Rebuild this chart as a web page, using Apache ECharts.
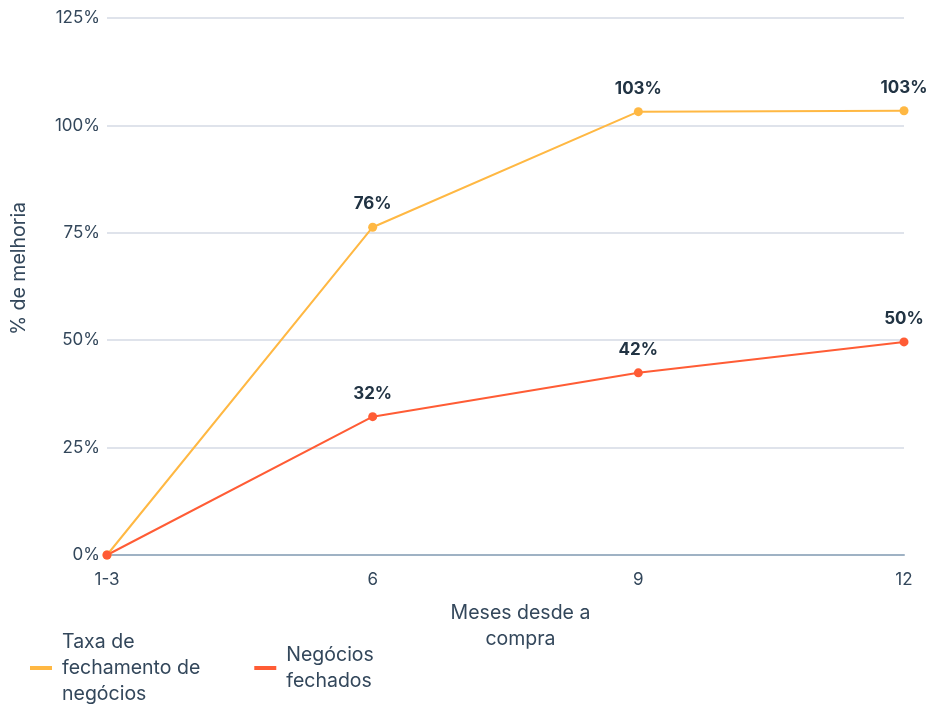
<!DOCTYPE html>
<html>
<head>
<meta charset="utf-8">
<script src="https://cdn.jsdelivr.net/npm/echarts@6/dist/echarts.min.js"></script>
<style>
  html, body { margin: 0; padding: 0; background: #fff; }
  #chart { width: 930px; height: 704px; }
</style>
</head>
<body>
<div id="chart"></div>
<script>
// Months since purchase
const months = ['1-3', '6', '9', '12'];
// % improvement
const closeRate = [0, 76.3, 103.2, 103.4];
const closedDeals = [0, 32.2, 42.4, 49.6];
const yTicks = [0, 25, 50, 75, 100, 125];

const FONT = 'Inter';
const TEXT = '#33475b';
const LABEL = '#213343';
const YELLOW = '#ffb843';
const RED = '#ff5c35';

const chart = echarts.init(document.getElementById('chart'));

function lineSeries(name, data, color) {
  return {
    name: name,
    type: 'line',
    data: data,
    color: color,
    symbol: 'circle',
    symbolSize: 9,
    lineStyle: { width: 2, color: color },
    itemStyle: { color: color },
    label: {
      show: true,
      position: 'top',
      distance: 10,
      fontFamily: FONT,
      fontWeight: 'bold',
      fontSize: 17,
      color: LABEL,
      formatter: p => (p.dataIndex === 0 ? '' : Math.round(p.value) + '%')
    }
  };
}

chart.setOption({
  animation: false,
  textStyle: { fontFamily: FONT },
  grid: { left: 107, right: 26, top: 18, bottom: 149 },
  legend: {
    left: 25,
    bottom: -8,
    itemWidth: 22,
    itemHeight: 4,
    itemGap: 54,
    icon: 'rect',
    textStyle: { fontFamily: FONT, fontSize: 19.5, color: TEXT, lineHeight: 26, padding: [0, 0, 0, 5] },
    data: [
      { name: 'Taxa de\nfechamento de\nnegócios', itemStyle: { color: YELLOW } },
      { name: 'Negócios\nfechados', itemStyle: { color: RED } }
    ]
  },
  xAxis: {
    type: 'category',
    data: months,
    boundaryGap: false,
    name: 'Meses desde a\ncompra',
    nameLocation: 'middle',
    nameGap: 45,
    nameTextStyle: { fontFamily: FONT, fontSize: 19.5, color: TEXT, lineHeight: 26, padding: [0, 0, 0, 30] },
    axisLine: { lineStyle: { color: '#9fb2c4', width: 2 } },
    axisTick: { show: false },
    axisLabel: { fontFamily: FONT, fontSize: 17, color: TEXT, margin: 16 }
  },
  yAxis: {
    type: 'value',
    min: yTicks[0],
    max: yTicks[yTicks.length - 1],
    interval: 25,
    name: '% de melhoria',
    nameLocation: 'middle',
    nameGap: 78,
    nameTextStyle: { fontFamily: FONT, fontSize: 19.5, color: TEXT, padding: [0, 0, 0, 36] },
    axisLine: { show: false },
    axisTick: { show: false },
    axisLabel: { fontFamily: FONT, fontSize: 17, color: TEXT, margin: 7, formatter: v => v + '%' },
    splitLine: { lineStyle: { color: '#dfe3eb', width: 2 } }
  },
  series: [
    lineSeries('Taxa de\nfechamento de\nnegócios', closeRate, YELLOW),
    lineSeries('Negócios\nfechados', closedDeals, RED)
  ]
});
</script>
</body>
</html>
